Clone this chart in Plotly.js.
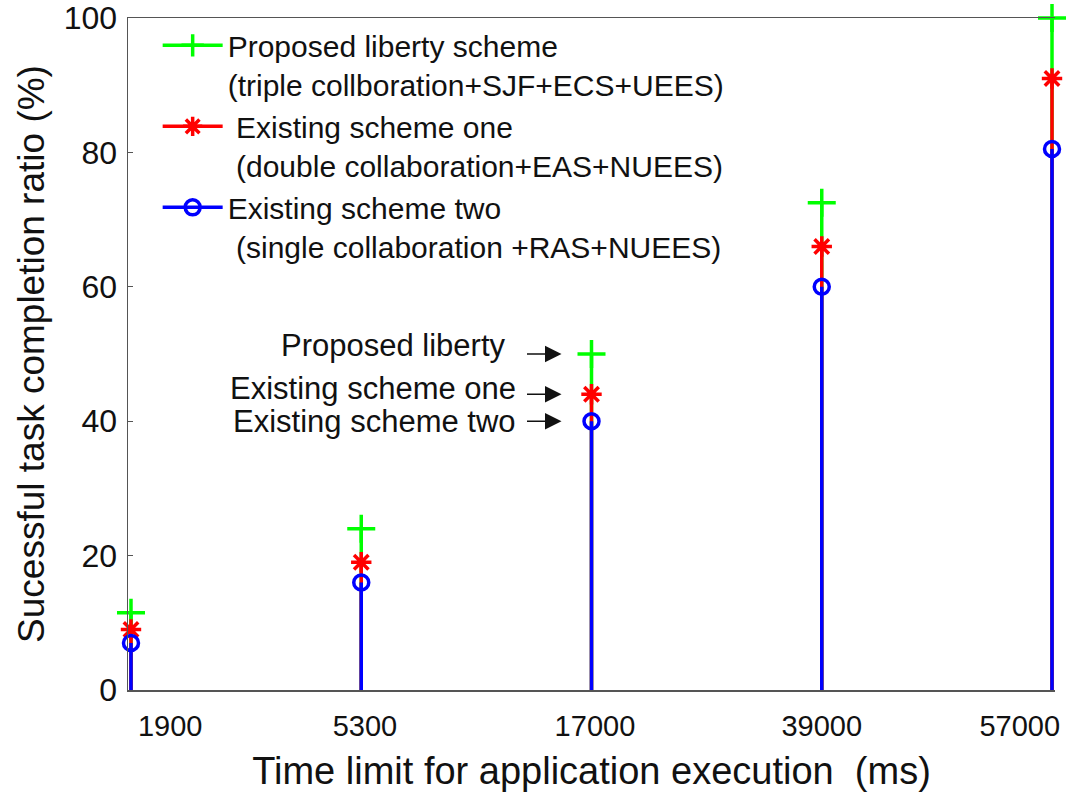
<!DOCTYPE html>
<html>
<head>
<meta charset="utf-8">
<script src="https://cdn.plot.ly/plotly-3.0.1.min.js"></script>
<style>html,body{margin:0;padding:0;background:#fff;}#chart{width:1067px;height:801px;}</style>
</head>
<body>
<div id="chart"></div>
<script>
const categories = ['1900', '5300', '17000', '39000', '57000'];
const proposed = [11.5, 24, 50, 72.5, 100];
const existingOne = [9, 19, 44, 66, 91];
const existingTwo = [7, 16, 40, 60, 80.5];
const seriesNames = [
  'Proposed liberty scheme<br>(triple collboration+SJF+ECS+UEES)',
  ' Existing scheme one<br> (double collaboration+EAS+NUEES)',
  'Existing scheme two<br> (single collaboration +RAS+NUEES)'
];
const yTicks = [0, 20, 40, 60, 80, 100];
const tickLabelPos = [0.17, 1.016, 2.015, 3.0, 3.86];

const FONT = 'Liberation Sans, Arial, sans-serif';
const idx = categories.map((c, i) => i);

function stemXY(vals) {
  const x = [], y = [];
  vals.forEach((v, i) => { x.push(i, i, null); y.push(0, v, null); });
  return {x, y};
}

const styles = [
  {vals: proposed, color: '#00ff00', symbol: 'cross-thin-open', size: 20},
  {vals: existingOne, color: '#ff0000', symbol: 'asterisk-open', size: 17},
  {vals: existingTwo, color: '#0000ff', symbol: 'circle-open', size: 15}
];

const traces = [];
styles.forEach((s, k) => {
  const st = stemXY(s.vals);
  traces.push({
    type: 'scatter', mode: 'lines', x: st.x, y: st.y,
    line: {color: s.color, width: 3.5}, showlegend: false, hoverinfo: 'skip'
  });
});
styles.forEach((s, k) => {
  traces.push({
    type: 'scatter', mode: 'markers', x: idx, y: s.vals,
    marker: {symbol: s.symbol, size: s.size, color: s.color, line: {color: s.color, width: 3.5}},
    showlegend: false, cliponaxis: false
  });
});
styles.forEach((s, k) => {
  traces.push({
    type: 'scatter', mode: 'lines+markers', x: [null], y: [null], name: seriesNames[k],
    line: {color: s.color, width: 3.5},
    marker: {symbol: s.symbol, size: s.size, color: s.color, line: {color: s.color, width: 3.5}}
  });
});

const annTexts = [
  {text: 'Proposed liberty', x: 1.637, y: 51.3, target: proposed[2]},
  {text: 'Existing scheme one', x: 1.681, y: 44.9, target: existingOne[2]},
  {text: 'Existing scheme two', x: 1.681, y: 39.9, target: existingTwo[2]}
];
const annotations = [];
annTexts.forEach(a => {
  annotations.push({
    xref: 'x', yref: 'y', x: a.x, y: a.y, text: a.text, showarrow: false,
    xanchor: 'right', yanchor: 'middle', font: {family: FONT, size: 31, color: '#111'}
  });
  annotations.push({
    xref: 'x', yref: 'y', x: 2, y: a.target, text: '', showarrow: true,
    ax: -66, ay: 0, standoff: 30, arrowhead: 2, arrowsize: 2.2, arrowwidth: 1.5, arrowcolor: '#111'
  });
});

const layout = {
  width: 1067, height: 801,
  margin: {l: 128, r: 12, t: 18, b: 111},
  paper_bgcolor: '#fff', plot_bgcolor: '#fff',
  showlegend: true,
  legend: {
    x: 0.032, y: 0.998, xanchor: 'left', yanchor: 'top',
    font: {family: FONT, size: 30, color: '#111'},
    bgcolor: 'rgba(0,0,0,0)', itemwidth: 60, valign: 'top', tracegroupgap: 0
  },
  xaxis: {
    range: [-0.013, 4.013], showgrid: false, zeroline: false,
    tickmode: 'array', tickvals: tickLabelPos, ticktext: categories,
    ticks: '', ticklabelstandoff: 10,
    showline: true, linecolor: '#555', linewidth: 1.5, mirror: true,
    tickfont: {family: FONT, size: 29, color: '#111'},
    title: {text: 'Time limit for application execution\u00a0\u00a0(ms)', font: {family: FONT, size: 38, color: '#111'}, standoff: 16}
  },
  yaxis: {
    range: [0, 100], showgrid: false, zeroline: false,
    tickmode: 'array', tickvals: yTicks, ticktext: yTicks.map(String),
    ticks: 'inside', ticklen: 5, tickcolor: '#555', ticklabelstandoff: 3,
    showline: true, linecolor: '#555', linewidth: 1.5,
    tickfont: {family: FONT, size: 32, color: '#111'},
    title: {text: 'Sucessful task completion ratio (%)', font: {family: FONT, size: 37, color: '#111'}, standoff: 8}
  },
  annotations: annotations
};

Plotly.newPlot('chart', traces, layout, {displayModeBar: false, staticPlot: true});
</script>
</body>
</html>
